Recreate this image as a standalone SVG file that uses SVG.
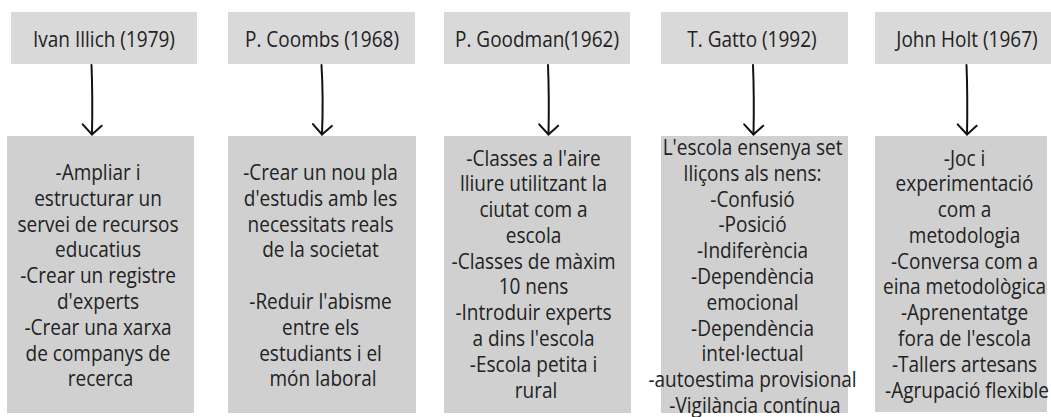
<svg xmlns="http://www.w3.org/2000/svg" width="1051" height="417" viewBox="0 0 1051 417">
  <style>
    .hd { fill: #d9d9d9; }
    .bd { fill: #d0d0d0; }
    .t { font-family: "Open Sans", "Liberation Sans", sans-serif; font-size: 21px; fill: #222; text-anchor: middle; }
    .arr { fill: none; stroke: #111; stroke-width: 2; stroke-linecap: round; stroke-linejoin: round; }
  </style>
  <defs>
    <marker id="vhead" markerUnits="userSpaceOnUse" markerWidth="24" markerHeight="24" refX="0" refY="0" orient="auto" overflow="visible">
      <path d="M-9,-9.5 L0,0 L-10,9.5" fill="none" stroke="#111" stroke-width="2" stroke-linecap="round" stroke-linejoin="round"/>
    </marker>
  </defs>
  <rect width="1051" height="417" fill="#ffffff"/>

  <g id="connectors">
    <path class="arr" marker-end="url(#vhead)" d="M91.5,65 C92.5,90 92.5,110 92,134.5"/>
    <path class="arr" marker-end="url(#vhead)" d="M321.5,65 C323,90 323,110 322,134.5"/>
    <path class="arr" marker-end="url(#vhead)" d="M548,65 C549,90 549,110 548.5,134.5"/>
    <path class="arr" marker-end="url(#vhead)" d="M753,65 C754,90 754,110 753.5,134.5"/>
    <path class="arr" marker-end="url(#vhead)" d="M966.5,65 C967.5,90 967.5,110 967,134.5"/>
  </g>

  <g id="head-illich">
    <rect class="hd" x="11" y="12" width="186" height="52"/>
    <text class="t" transform="translate(104 47) scale(0.905 1)" x="0" y="0">Ivan Illich (1979)</text>
  </g>
  <g id="head-coombs">
    <rect class="hd" x="228" y="12" width="187" height="52"/>
    <text class="t" transform="translate(322 47) scale(0.905 1)" x="0" y="0">P. Coombs (1968)</text>
  </g>
  <g id="head-goodman">
    <rect class="hd" x="444" y="12" width="186" height="52"/>
    <text class="t" transform="translate(537 47) scale(0.905 1)" x="0" y="0">P. Goodman(1962)</text>
  </g>
  <g id="head-gatto">
    <rect class="hd" x="661" y="12" width="187" height="52"/>
    <text class="t" transform="translate(752 47) scale(0.905 1)" x="0" y="0">T. Gatto (1992)</text>
  </g>
  <g id="head-holt">
    <rect class="hd" x="875" y="12" width="176" height="52"/>
    <text class="t" transform="translate(967 47) scale(0.905 1)" x="0" y="0">John Holt (1967)</text>
  </g>

  <g id="body-illich">
    <rect class="bd" x="7" y="136" width="187" height="277"/>
    <text class="t" transform="translate(100.5 180) scale(0.905 1)" y="0">
      <tspan x="0">-Ampliar i</tspan>
      <tspan x="0" dy="25.8">estructurar un</tspan>
      <tspan x="0" dy="25.8">servei de recursos</tspan>
      <tspan x="0" dy="25.8">educatius</tspan>
      <tspan x="0" dy="25.8">-Crear un registre</tspan>
      <tspan x="0" dy="25.8">d'experts</tspan>
      <tspan x="0" dy="25.8">-Crear una xarxa</tspan>
      <tspan x="0" dy="25.8">de companys de</tspan>
      <tspan x="0" dy="25.8">recerca</tspan>
    </text>
  </g>
  <g id="body-coombs">
    <rect class="bd" x="228" y="136" width="188" height="277"/>
    <text class="t" transform="translate(323 180) scale(0.905 1)" y="0">
      <tspan x="0">-Crear un nou pla</tspan>
      <tspan x="0" dy="25.8">d'estudis amb les</tspan>
      <tspan x="0" dy="25.8">necessitats reals</tspan>
      <tspan x="0" dy="25.8">de la societat</tspan>
      <tspan x="0" dy="51.6">-Reduir l'abisme</tspan>
      <tspan x="0" dy="25.8">entre els</tspan>
      <tspan x="0" dy="25.8">estudiants i el</tspan>
      <tspan x="0" dy="25.8">món laboral</tspan>
    </text>
  </g>
  <g id="body-goodman">
    <rect class="bd" x="444" y="136" width="187" height="277"/>
    <text class="t" transform="translate(536 165.5) scale(0.905 1)" y="0">
      <tspan x="0">-Classes a l'aire</tspan>
      <tspan x="0" dy="25.8">lliure utilitzant la</tspan>
      <tspan x="0" dy="25.8">ciutat com a</tspan>
      <tspan x="0" dy="25.8">escola</tspan>
      <tspan x="0" dy="25.8">-Classes de màxim</tspan>
      <tspan x="0" dy="25.8">10 nens</tspan>
      <tspan x="0" dy="25.8">-Introduir experts</tspan>
      <tspan x="0" dy="25.8">a dins l'escola</tspan>
      <tspan x="0" dy="25.8">-Escola petita i</tspan>
      <tspan x="0" dy="25.8">rural</tspan>
    </text>
  </g>
  <g id="body-gatto">
    <rect class="bd" x="661" y="136" width="187" height="277"/>
    <text class="t" transform="translate(755 155) scale(0.905 1)" y="0">
      <tspan x="0">L'escola ensenya set</tspan>
      <tspan x="0" dy="25.8">lliçons als nens:</tspan>
      <tspan x="0" dy="25.8">-Confusió</tspan>
      <tspan x="0" dy="25.8">-Posició</tspan>
      <tspan x="0" dy="25.8">-Indiferència</tspan>
      <tspan x="0" dy="25.8">-Dependència</tspan>
      <tspan x="0" dy="25.8">emocional</tspan>
      <tspan x="0" dy="25.8">-Dependència</tspan>
      <tspan x="0" dy="25.8">intel·lectual</tspan>
      <tspan x="0" dy="25.8">-autoestima provisional</tspan>
      <tspan x="0" dy="25.8">-Vigilància contínua</tspan>
    </text>
  </g>
  <g id="body-holt">
    <rect class="bd" x="875" y="136" width="172" height="276"/>
    <text class="t" transform="translate(967 165.5) scale(0.905 1)" y="0">
      <tspan x="0">-Joc i</tspan>
      <tspan x="0" dy="25.8">experimentació</tspan>
      <tspan x="0" dy="25.8">com a</tspan>
      <tspan x="0" dy="25.8">metodologia</tspan>
      <tspan x="0" dy="25.8">-Conversa com a</tspan>
      <tspan x="0" dy="25.8">eina metodològica</tspan>
      <tspan x="0" dy="25.8">-Aprenentatge</tspan>
      <tspan x="0" dy="25.8">fora de l'escola</tspan>
      <tspan x="0" dy="25.8">-Tallers artesans</tspan>
      <tspan x="0" dy="25.8">-Agrupació flexible</tspan>
    </text>
  </g>
</svg>
